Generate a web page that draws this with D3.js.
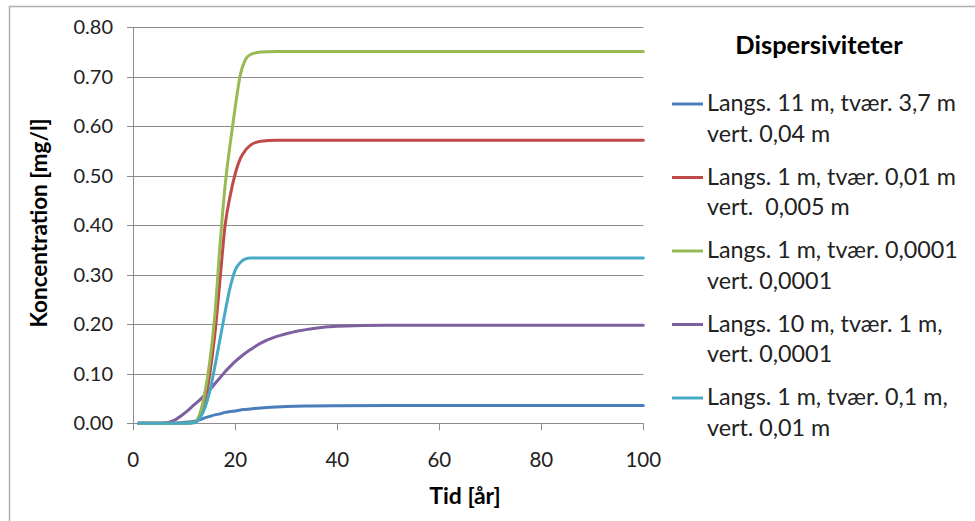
<!DOCTYPE html>
<html>
<head>
<meta charset="utf-8">
<script src="https://cdn.jsdelivr.net/npm/d3@7"></script>
<style>
  body { margin: 0; background: #fff; }
  svg { display: block; font-family: Lato, "Open Sans", sans-serif; }
  text { white-space: pre; }
</style>
</head>
<body>
<svg id="chart" width="975" height="521"></svg>
<script>
// ---- data ----
const years = [1, 5, 6, 8, 10, 12, 13, 14, 15, 16, 17, 18, 19, 20, 21, 22, 23, 25, 28, 30, 35, 40, 50, 60, 80, 100];

const seriesNames = [
  ["Langs. 11 m, tvær. 3,7 m", "vert. 0,04 m"],
  ["Langs. 1 m, tvær. 0,01 m", "vert.  0,005 m"],
  ["Langs. 1 m, tvær. 0,0001", "vert. 0,0001"],
  ["Langs. 10 m, tvær. 1 m,", "vert. 0,0001"],
  ["Langs. 1 m, tvær. 0,1 m,", "vert. 0,01 m"]
];
const seriesColors = ["#4a7ebb", "#be4b48", "#98b954", "#7d60a0", "#46aac5"];

const blueValues   = [0, 0, 0, 0, 0.002, 0.004, 0.007, 0.011, 0.014, 0.017, 0.019, 0.022, 0.024, 0.025, 0.027, 0.028, 0.029, 0.031, 0.033, 0.034, 0.035, 0.0355, 0.036, 0.036, 0.036, 0.036];
const redValues    = [0, 0, 0, 0, 0, 0.002, 0.015, 0.045, 0.10, 0.18, 0.29, 0.40, 0.46, 0.505, 0.535, 0.552, 0.562, 0.570, 0.572, 0.572, 0.572, 0.572, 0.572, 0.572, 0.572, 0.572];
const greenValues  = [0, 0, 0, 0, 0, 0.002, 0.018, 0.06, 0.125, 0.22, 0.36, 0.48, 0.565, 0.64, 0.705, 0.735, 0.745, 0.750, 0.751, 0.751, 0.751, 0.751, 0.751, 0.751, 0.751, 0.751];
const purpleValues = [0, 0, 0.0005, 0.006, 0.02, 0.038, 0.047, 0.057, 0.068, 0.08, 0.092, 0.104, 0.115, 0.125, 0.134, 0.142, 0.149, 0.162, 0.175, 0.181, 0.191, 0.196, 0.198, 0.198, 0.198, 0.198];
const cyanValues   = [0, 0, 0, 0, 0, 0.001, 0.01, 0.03, 0.065, 0.115, 0.17, 0.225, 0.275, 0.31, 0.325, 0.332, 0.334, 0.334, 0.334, 0.334, 0.334, 0.334, 0.334, 0.334, 0.334, 0.334];

const seriesValues = [blueValues, redValues, greenValues, purpleValues, cyanValues];

const xTicks = [0, 20, 40, 60, 80, 100];
const yTicks = [0, 0.1, 0.2, 0.3, 0.4, 0.5, 0.6, 0.7, 0.8];

const legendTitle = "Dispersiviteter";
const xTitle = "Tid [år]";
const yTitle = "Koncentration [mg/l]";

// ---- drawing ----
const svg = d3.select("#chart");
const x = d3.scaleLinear().domain([0, 100]).range([133.3, 643.3]);
const y = d3.scaleLinear().domain([0, 0.8]).range([423.3, 27.3]);

// outer frame
svg.append("rect").attr("x", 9.5).attr("y", 6.5).attr("width", 1000).attr("height", 600)
  .attr("fill", "none").attr("stroke", "#b0b0b0").attr("stroke-width", 1.5);

// gridlines
svg.append("g").selectAll("line").data(yTicks).join("line")
  .attr("x1", 127).attr("x2", x(100))
  .attr("y1", d => Math.round(y(d)) + 0.5).attr("y2", d => Math.round(y(d)) + 0.5)
  .attr("stroke", "#8c8c8c").attr("stroke-width", 1);

// y axis line
svg.append("line").attr("x1", Math.round(x(0)) + 0.5).attr("x2", Math.round(x(0)) + 0.5)
  .attr("y1", y(0.8)).attr("y2", y(0) + 7)
  .attr("stroke", "#8c8c8c");

// x ticks
svg.append("g").selectAll("line").data(xTicks.slice(1)).join("line")
  .attr("x1", d => Math.round(x(d)) + 0.5).attr("x2", d => Math.round(x(d)) + 0.5)
  .attr("y1", y(0)).attr("y2", y(0) + 7)
  .attr("stroke", "#8c8c8c");

// y tick labels
svg.append("g").selectAll("text").data(yTicks).join("text")
  .attr("x", 113).attr("y", d => y(d) + 7)
  .attr("text-anchor", "end").attr("font-size", 20).attr("fill", "#222")
  .text(d => d.toFixed(2));

// x tick labels
svg.append("g").selectAll("text").data(xTicks).join("text")
  .attr("x", d => x(d)).attr("y", 467)
  .attr("text-anchor", "middle").attr("font-size", 20.5).attr("fill", "#222")
  .text(d => d);

// axis titles
svg.append("text").attr("x", 465).attr("y", 504).attr("text-anchor", "middle")
  .attr("font-size", 23).attr("font-weight", "bold").attr("fill", "#000").text(xTitle);
svg.append("text").attr("transform", "translate(47,223) rotate(-90)").attr("text-anchor", "middle")
  .attr("font-size", 22.5).attr("font-weight", "bold").attr("fill", "#000").text(yTitle);

// lines
const line = d3.line().x(d => x(d[0])).y(d => y(d[1])).curve(d3.curveMonotoneX);
const order = [0, 3, 1, 2, 4];
svg.append("g").selectAll("path").data(order).join("path")
  .attr("d", i => line(years.map((t, k) => [t, seriesValues[i][k]])))
  .attr("fill", "none").attr("stroke", i => seriesColors[i])
  .attr("stroke-width", 3).attr("stroke-linejoin", "round").attr("stroke-linecap", "round");

// legend
const lg = svg.append("g");
lg.append("text").attr("x", 819).attr("y", 54).attr("text-anchor", "middle")
  .attr("font-size", 25.5).attr("font-weight", "bold").attr("fill", "#000").text(legendTitle);
seriesNames.forEach((nm, i) => {
  const by = 111 + i * 73.5;
  lg.append("line").attr("x1", 672).attr("x2", 703).attr("y1", by - 7).attr("y2", by - 7)
    .attr("stroke", seriesColors[i]).attr("stroke-width", 3);
  lg.append("text").attr("x", 707).attr("y", by).attr("font-size", 23.3).attr("fill", "#222").text(nm[0]);
  lg.append("text").attr("x", 707).attr("y", by + 30.5).attr("font-size", 23.3).attr("fill", "#222").text(nm[1]);
});
</script>
</body>
</html>
